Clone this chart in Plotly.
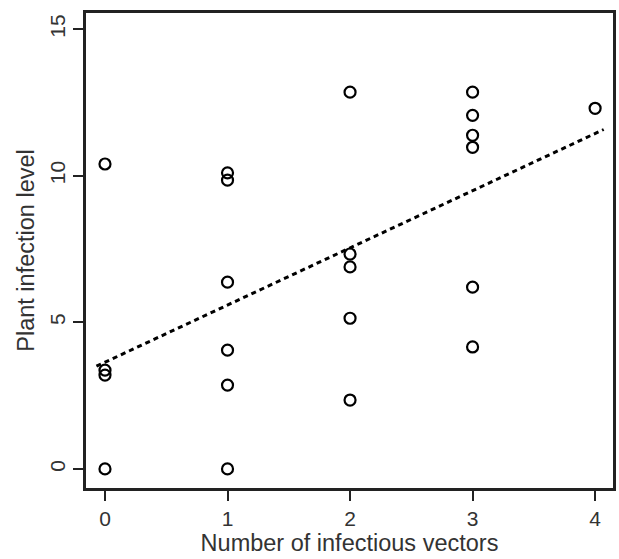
import plotly.graph_objects as go

vectors = [0, 0, 0, 0,
           1, 1, 1, 1, 1, 1,
           2, 2, 2, 2, 2,
           3, 3, 3, 3, 3, 3,
           4]
infection = [10.4, 3.37, 3.2, 0.0,
             10.1, 9.85, 6.37, 4.05, 2.86, 0.0,
             12.85, 7.33, 6.89, 5.14, 2.35,
             12.85, 12.06, 11.38, 10.97, 6.2, 4.16,
             12.3]

fit_intercept = 3.64
fit_slope = 1.95
fit_x = [-0.07, 4.07]
fit_y = [fit_intercept + fit_slope * v for v in fit_x]

x_ticks = [0, 1, 2, 3, 4]
y_ticks = [0, 5, 10, 15]

fig = go.Figure()
fig.add_trace(go.Scatter(x=fit_x, y=fit_y, mode="lines",
                         line=dict(color="black", width=3, dash="5px,4px"),
                         showlegend=False, hoverinfo="skip"))
fig.add_trace(go.Scatter(x=vectors, y=infection, mode="markers",
                         marker=dict(symbol="circle-open", size=11, color="black",
                                     line=dict(width=2.2, color="black")),
                         showlegend=False))

font = "Liberation Sans, Arial, sans-serif"
fig.update_layout(
    width=619, height=559,
    margin=dict(l=86, r=3, t=13, b=71),
    paper_bgcolor="white", plot_bgcolor="white",
    font=dict(family=font, color="#333333", size=21),
)
fig.update_xaxes(range=[-0.155, 4.146], tickvals=x_ticks, ticktext=[str(v) for v in x_ticks],
                 showgrid=False, zeroline=False, showline=True, mirror=True,
                 linecolor="#222222", linewidth=2.5, ticks="outside", ticklen=10, tickwidth=2,
                 tickcolor="#222222", tickfont=dict(size=21),
                 title=dict(text="Number of infectious vectors", font=dict(size=23.5), standoff=5))
fig.update_yaxes(range=[-0.65, 15.55], tickvals=y_ticks, ticktext=[str(v) for v in y_ticks],
                 showgrid=False, zeroline=False, showline=True, mirror=True,
                 linecolor="#222222", linewidth=2.5, ticks="outside", ticklen=10, tickwidth=2,
                 tickcolor="#222222", tickangle=-90, tickfont=dict(size=21),
                 title=dict(text="Plant infection level", font=dict(size=23.5), standoff=5))

fig.write_html("out.html")
